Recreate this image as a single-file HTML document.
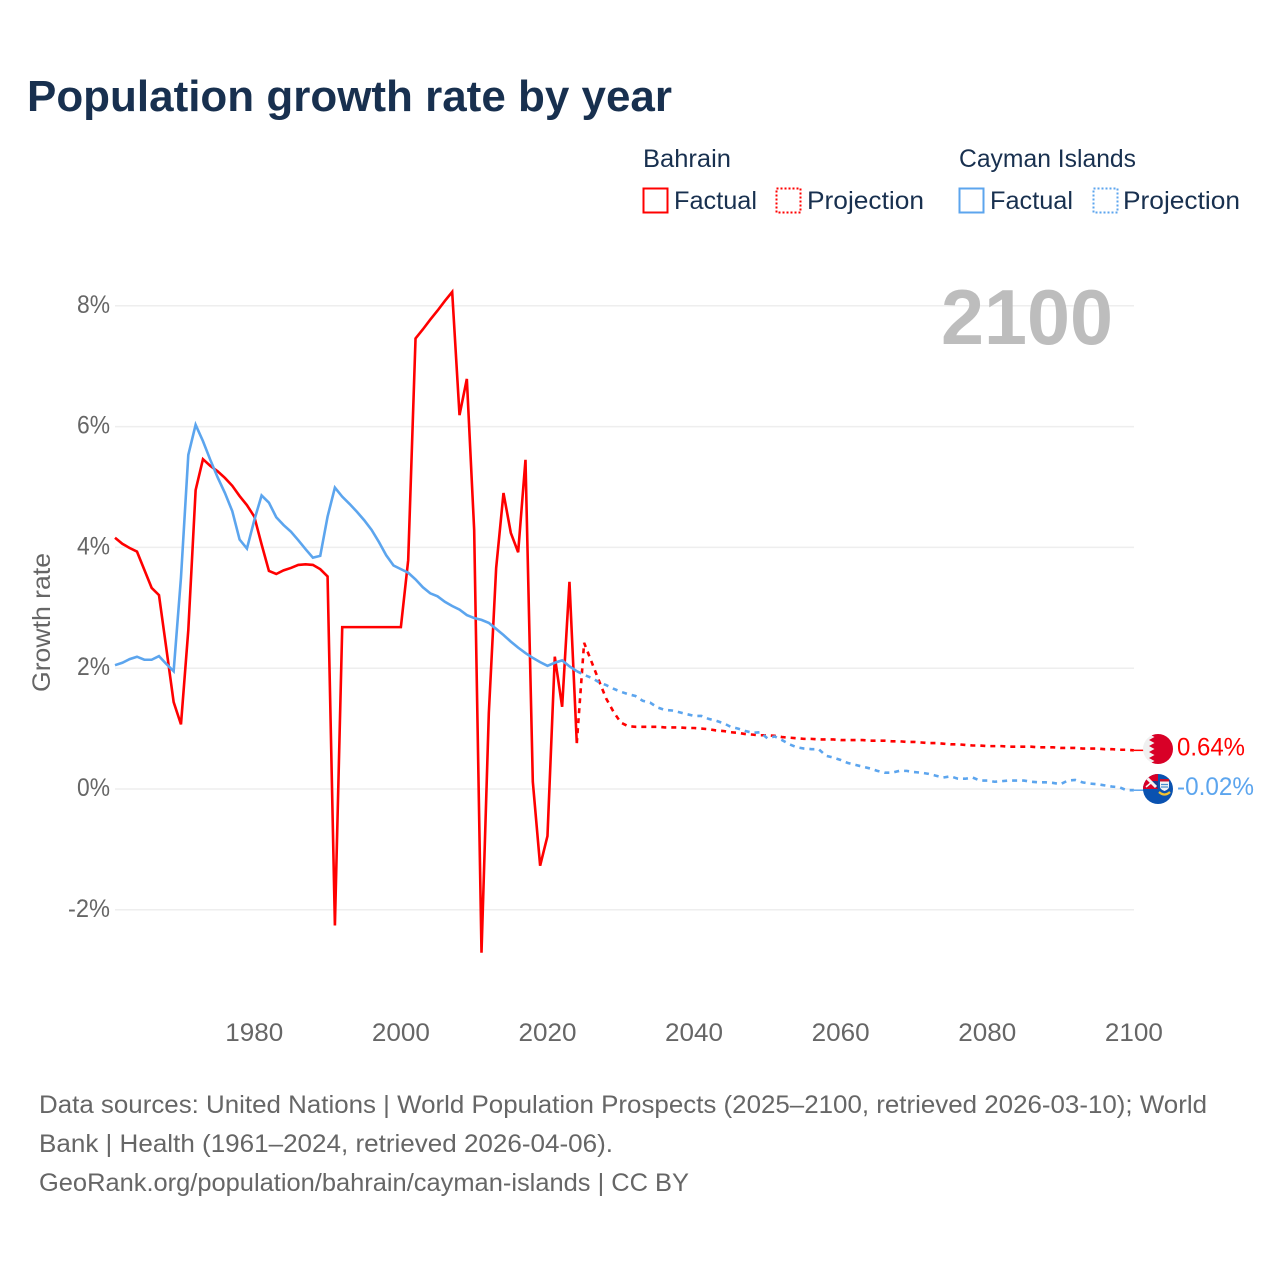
<!DOCTYPE html>
<html lang="en">
<head>
<meta charset="utf-8">
<title>Population growth rate by year</title>
<style>
html,body{margin:0;padding:0;background:#fff}
svg{display:block}
text{font-family:"Liberation Sans",sans-serif}
</style>
</head>
<body>
<svg id="chart" xmlns="http://www.w3.org/2000/svg" width="1280" height="1280" viewBox="0 0 1280 1280">
  <text x="27" y="111" font-size="44" font-weight="700" fill="#18304f" textLength="645" lengthAdjust="spacingAndGlyphs">Population growth rate by year</text>

  <g font-size="25" fill="#18304f">
    <text x="643" y="167" textLength="88" lengthAdjust="spacingAndGlyphs">Bahrain</text>
    <text x="959" y="167" textLength="177" lengthAdjust="spacingAndGlyphs">Cayman Islands</text>
    <rect x="643.5" y="188.5" width="24" height="24" fill="none" stroke="#ff0000" stroke-width="2"/>
    <text x="674" y="209" textLength="83" lengthAdjust="spacingAndGlyphs">Factual</text>
    <rect x="776.5" y="188.5" width="24" height="24" fill="none" stroke="#ff0000" stroke-width="2" stroke-dasharray="2 2"/>
    <text x="807" y="209" textLength="117" lengthAdjust="spacingAndGlyphs">Projection</text>
    <rect x="959.5" y="188.5" width="24" height="24" fill="none" stroke="#5ca5ee" stroke-width="2"/>
    <text x="990" y="209" textLength="83" lengthAdjust="spacingAndGlyphs">Factual</text>
    <rect x="1093.5" y="188.5" width="24" height="24" fill="none" stroke="#5ca5ee" stroke-width="2" stroke-dasharray="2 2"/>
    <text x="1123" y="209" textLength="117" lengthAdjust="spacingAndGlyphs">Projection</text>
  </g>

  <g id="grid"></g>
  <g id="y-ticks"></g>
  <g id="x-ticks"></g>
  <text transform="translate(50 692) rotate(-90)" x="0" y="0" font-size="25" fill="#666666" textLength="139" lengthAdjust="spacingAndGlyphs">Growth rate</text>
  <text x="941" y="344" font-size="78" font-weight="700" fill="#bdbdbd" textLength="172" lengthAdjust="spacingAndGlyphs">2100</text>

  <g id="series"></g>

  <g>
    <clipPath id="clip-bh"><circle cx="1158" cy="749" r="15"/></clipPath>
    <g clip-path="url(#clip-bh)">
      <rect x="1143" y="734" width="30" height="30" fill="#f0f0f0"/>
      <polygon fill="#d80027" points="1173,734 1149,734 1154.5,737 1149,740 1154.5,743 1149,746 1154.5,749 1149,752 1154.5,755 1149,758 1154.5,761 1149,764 1173,764"/>
    </g>
  </g>
  <g>
    <clipPath id="clip-ky"><circle cx="1158" cy="789" r="15"/></clipPath>
    <g clip-path="url(#clip-ky)">
      <rect x="1143" y="774" width="30" height="30" fill="#0a52b0"/>
      <rect x="1143" y="774" width="15" height="15" fill="#d80027"/>
      <polygon fill="#1f3a8a" points="1150,781 1158,781 1158,789"/>
      <path d="M1146 777 L1156 787" stroke="#f4f4f4" stroke-width="3"/>
      <path d="M1146 787 L1152 782" stroke="#f4f4f4" stroke-width="1.5"/>
      <path d="M1160 779 h9 v2.5 h-9 z" fill="#c8102e"/>
      <path d="M1160 781.5 h9 v5 q0 3 -4.5 4.5 q-4.5 -1.500 -4.500 -4.500 z" fill="#f4f4f4"/>
      <path d="M1161 784.500 h7 M1161 787 h7" stroke="#4a90d0" stroke-width="1.200"/>
      <path d="M1159 792 Q1164.500 797 1170 792" fill="none" stroke="#f2c230" stroke-width="2.200"/>
    </g>
  </g>

  <g id="end-labels"></g>

  <g font-size="25" fill="#666666">
    <text x="39" y="1113" textLength="1168" lengthAdjust="spacingAndGlyphs">Data sources: United Nations | World Population Prospects (2025–2100, retrieved 2026-03-10); World</text>
    <text x="39" y="1152" textLength="574" lengthAdjust="spacingAndGlyphs">Bank | Health (1961–2024, retrieved 2026-04-06).</text>
    <text x="39" y="1191" textLength="650" lengthAdjust="spacingAndGlyphs">GeoRank.org/population/bahrain/cayman-islands | CC BY</text>
  </g>
</svg>
<script>
const yTickValues = [8, 6, 4, 2, 0, -2];
const xTickYears = [1980, 2000, 2020, 2040, 2060, 2080, 2100];
const factualStartYear = 1961;
const projectionStartYear = 2024;

const bahrainFactual = [
  4.16, 4.06, 3.99, 3.93, 3.63, 3.33, 3.21, 2.33, 1.44, 1.07,
  2.63, 4.95, 5.46, 5.35, 5.26, 5.15, 5.02, 4.85, 4.70, 4.51,
  4.05, 3.61, 3.56, 3.62, 3.66, 3.71, 3.72, 3.71, 3.64, 3.52,
  -2.26, 2.68, 2.68, 2.68, 2.68, 2.68, 2.68, 2.68, 2.68, 2.68,
  3.79, 7.46, 7.61, 7.77, 7.92, 8.08, 8.23, 6.19, 6.79, 4.29,
  -2.71, 1.26, 3.66, 4.90, 4.24, 3.92, 5.45, 0.12, -1.27, -0.78,
  2.19, 1.36, 3.43, 0.76
];
const caymanFactual = [
  2.05, 2.09, 2.15, 2.19, 2.14, 2.14, 2.20, 2.07, 1.95, 3.50,
  5.53, 6.03, 5.76, 5.45, 5.16, 4.90, 4.60, 4.13, 3.98, 4.45,
  4.86, 4.74, 4.50, 4.37, 4.26, 4.12, 3.97, 3.83, 3.86, 4.51,
  4.99, 4.84, 4.72, 4.59, 4.45, 4.29, 4.09, 3.87, 3.70, 3.64,
  3.58, 3.47, 3.34, 3.24, 3.19, 3.10, 3.03, 2.97, 2.88, 2.83,
  2.80, 2.75, 2.65, 2.55, 2.44, 2.34, 2.25, 2.17, 2.10, 2.04,
  2.09, 2.13, 2.03, 1.95
];
const bahrainProjection = [
  0.76, 2.42, 2.11, 1.80, 1.50, 1.28, 1.10, 1.04, 1.03, 1.03, 1.03,
  1.03, 1.02, 1.02, 1.02, 1.01, 1.01, 1.00, 0.99, 0.97, 0.96,
  0.94, 0.93, 0.91, 0.90, 0.89, 0.89, 0.88, 0.86, 0.85, 0.84,
  0.83, 0.83, 0.82, 0.82, 0.82, 0.81, 0.81, 0.81, 0.81, 0.80,
  0.80, 0.80, 0.79, 0.79, 0.78, 0.78, 0.77, 0.76, 0.76, 0.75,
  0.74, 0.74, 0.73, 0.72, 0.72, 0.71, 0.71, 0.71, 0.70, 0.70,
  0.70, 0.70, 0.69, 0.69, 0.69, 0.68, 0.68, 0.68, 0.67, 0.67,
  0.67, 0.66, 0.66, 0.65, 0.65, 0.64
];
const caymanProjection = [
  1.95, 1.89, 1.84, 1.77, 1.72, 1.66, 1.61, 1.57, 1.54, 1.46, 1.43,
  1.35, 1.31, 1.30, 1.27, 1.24, 1.21, 1.21, 1.16, 1.13, 1.09,
  1.03, 1.00, 0.96, 0.93, 0.94, 0.84, 0.87, 0.81, 0.74, 0.69,
  0.67, 0.66, 0.66, 0.55, 0.52, 0.48, 0.43, 0.40, 0.37, 0.34,
  0.30, 0.27, 0.27, 0.30, 0.30, 0.28, 0.27, 0.25, 0.22, 0.19,
  0.21, 0.17, 0.17, 0.19, 0.14, 0.14, 0.12, 0.13, 0.14, 0.14,
  0.14, 0.12, 0.11, 0.11, 0.10, 0.08, 0.14, 0.15, 0.11, 0.09,
  0.08, 0.06, 0.04, 0.03, -0.02, -0.02
];

const SVG_NS = 'http://www.w3.org/2000/svg';
const RED = '#ff0000';
const BLUE = '#5ca5ee';

function xScale(year) {
  return 115 + (year - 1961) * 7.33;
}
function yScale(value) {
  return 789 - value * 60.4;
}
function make(tag, parent) {
  const el = document.createElementNS(SVG_NS, tag);
  parent.appendChild(el);
  return el;
}
function linePath(values, startYear) {
  return values.map(function (v, i) {
    return (i ? 'L' : 'M') + xScale(startYear + i).toFixed(2) + ' ' + yScale(v).toFixed(2);
  }).join(' ');
}
function styleLine(el, color, dashed) {
  el.setAttribute('fill', 'none');
  el.setAttribute('stroke', color);
  el.setAttribute('stroke-width', '2.6');
  el.setAttribute('stroke-linejoin', 'miter');
  if (dashed) el.setAttribute('stroke-dasharray', '5 5');
}

const gridGroup = document.getElementById('grid');
const yTickGroup = document.getElementById('y-ticks');
yTickValues.forEach(function (v) {
  const line = make('line', gridGroup);
  
  
  line.setAttribute('x1', 115);
  line.setAttribute('x2', 1134);
  line.setAttribute('y1', yScale(v));
  line.setAttribute('y2', yScale(v));
  line.setAttribute('stroke', '#eeeeee');
  line.setAttribute('stroke-width', '1.5');

  const label = make('text', yTickGroup);
  
  
  label.textContent = v + '%';
  const w = v < 0 ? 42 : 33;
  label.setAttribute('x', 110 - w);
  label.setAttribute('y', yScale(v) + 7);
  label.setAttribute('font-size', '25');
  label.setAttribute('fill', '#666666');
  label.setAttribute('textLength', w);
  label.setAttribute('lengthAdjust', 'spacingAndGlyphs');
});

const xTickGroup = document.getElementById('x-ticks');
xTickYears.forEach(function (year) {
  const label = make('text', xTickGroup);
  
  
  label.textContent = String(year);
  label.setAttribute('x', xScale(year) - 29);
  label.setAttribute('y', 1041);
  label.setAttribute('font-size', '25');
  label.setAttribute('fill', '#666666');
  label.setAttribute('textLength', 58);
  label.setAttribute('lengthAdjust', 'spacingAndGlyphs');
});

const seriesGroup = document.getElementById('series');

const bahrainFactualLine = make('path', seriesGroup);


bahrainFactualLine.setAttribute('d', linePath(bahrainFactual, factualStartYear));
styleLine(bahrainFactualLine, RED, false);

const bahrainProjectionLine = make('path', seriesGroup);


bahrainProjectionLine.setAttribute('d', linePath(bahrainProjection, projectionStartYear));
styleLine(bahrainProjectionLine, RED, true);

const caymanFactualLine = make('path', seriesGroup);


caymanFactualLine.setAttribute('d', linePath(caymanFactual, factualStartYear));
styleLine(caymanFactualLine, BLUE, false);

const caymanProjectionLine = make('path', seriesGroup);


caymanProjectionLine.setAttribute('d', linePath(caymanProjection, projectionStartYear));
styleLine(caymanProjectionLine, BLUE, true);

const bahrainLast = bahrainProjection[bahrainProjection.length - 1];
const caymanLast = caymanProjection[caymanProjection.length - 1];

const bahrainConnector = make('line', seriesGroup);


bahrainConnector.setAttribute('x1', xScale(2100));
bahrainConnector.setAttribute('x2', 1144);
bahrainConnector.setAttribute('y1', yScale(bahrainLast));
bahrainConnector.setAttribute('y2', yScale(bahrainLast));
bahrainConnector.setAttribute('stroke', RED);
bahrainConnector.setAttribute('stroke-width', '1.5');

const caymanConnector = make('line', seriesGroup);


caymanConnector.setAttribute('x1', xScale(2100));
caymanConnector.setAttribute('x2', 1144);
caymanConnector.setAttribute('y1', yScale(caymanLast));
caymanConnector.setAttribute('y2', yScale(caymanLast));
caymanConnector.setAttribute('stroke', BLUE);
caymanConnector.setAttribute('stroke-width', '1.5');

const endGroup = document.getElementById('end-labels');

const bahrainEnd = make('text', endGroup);


bahrainEnd.textContent = bahrainLast.toFixed(2) + '%';
bahrainEnd.setAttribute('x', 1177);
bahrainEnd.setAttribute('y', yScale(bahrainLast) + 5);
bahrainEnd.setAttribute('font-size', '25');
bahrainEnd.setAttribute('fill', RED);
bahrainEnd.setAttribute('textLength', 68);
bahrainEnd.setAttribute('lengthAdjust', 'spacingAndGlyphs');

const caymanEnd = make('text', endGroup);


caymanEnd.textContent = caymanLast.toFixed(2) + '%';
caymanEnd.setAttribute('x', 1177);
caymanEnd.setAttribute('y', yScale(caymanLast) + 5);
caymanEnd.setAttribute('font-size', '25');
caymanEnd.setAttribute('fill', BLUE);
caymanEnd.setAttribute('textLength', 77);
caymanEnd.setAttribute('lengthAdjust', 'spacingAndGlyphs');
</script>
</body>
</html>
